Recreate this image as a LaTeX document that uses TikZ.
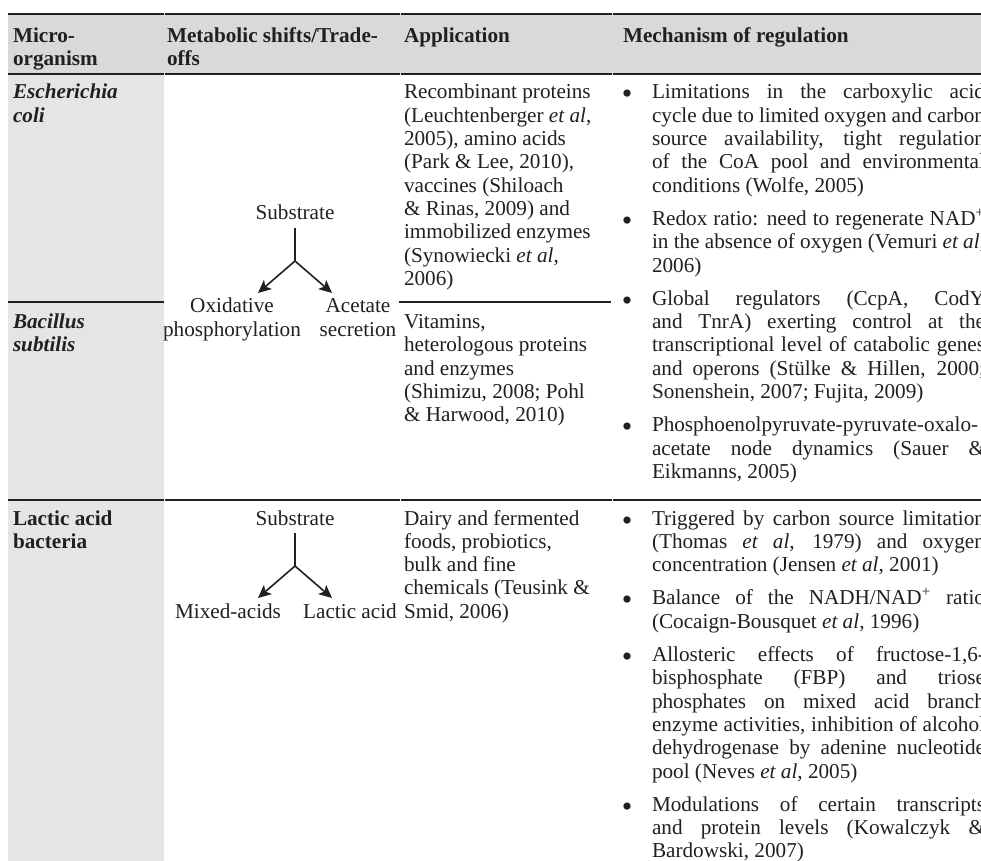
\documentclass[tikz,border=0pt]{standalone}
\usepackage{fontspec}
\setmainfont{Liberation Serif}
\usetikzlibrary{arrows.meta}

\definecolor{ink}{HTML}{231F20}
\definecolor{headgray}{HTML}{D8D9DB}
\definecolor{colgray}{HTML}{E4E5E7}

% width of a justified line in the last column
\newlength\jw
\setlength\jw{166.5pt}
\newcommand\jl[1]{\makebox[\jw][s]{#1}}
\newcommand\bul{\raisebox{-2.5pt}{\fontsize{15}{15}\selectfont\textbullet}}

\tikzset{
  txt/.style={anchor=base west, inner sep=0pt, outer sep=0pt, text=ink,
              font=\fontsize{10.6}{12}\selectfont},
  mid/.style={txt, anchor=base},
  hd/.style={txt, font=\fontsize{10.6}{12}\selectfont\bfseries},
  org/.style={txt, font=\fontsize{10.6}{12}\selectfont\bfseries\itshape},
  orgup/.style={txt, font=\fontsize{10.6}{12}\selectfont\bfseries},
  bulletmark/.style={txt, anchor=base},
  heavyrule/.style={draw=ink, line width=1pt},
  midrule/.style={draw=ink, line width=0.9pt},
  thinrule/.style={draw=ink, line width=0.6pt},
  connector/.style={draw=ink, line width=0.8pt},
  arrowline/.style={connector, -{Stealth[length=6.5pt,width=6pt,inset=1.6pt]}},
}

\begin{document}
\begin{tikzpicture}[x=0.5pt, y=-0.5pt]
\useasboundingbox (0,0) rectangle (981,861);
\clip (0,0) rectangle (981,861);
\fill[white] (0,0) rectangle (981,861);

% shaded header band and first column
\fill[headgray] (8,14) rectangle (981,74);
\fill[colgray] (8,74) rectangle (164,861);

% horizontal rules, broken slightly at the column joins
\foreach \y/\sty in {14/heavyrule, 74/heavyrule, 500/midrule}{
  \draw[\sty] (8,\y) -- (163.5,\y);
  \draw[\sty] (164.5,\y) -- (399.5,\y);
  \draw[\sty] (400.5,\y) -- (611.5,\y);
  \draw[\sty] (612.5,\y) -- (981,\y);
}
\draw[thinrule] (8,302) -- (164,302);
\draw[thinrule] (399,302) -- (611,302);

% header
\node[hd] (h1a) at (13,43) {Micro-};
\node[hd] (h1b) at (13,66) {organism};
\node[hd] (h2a) at (167,43) {Metabolic shifts/Trade-};
\node[hd] (h2b) at (167,66) {offs};
\node[hd] (h3) at (404,43) {Application};
\node[hd] (h4) at (623,43) {Mechanism of regulation};

% organisms
\node[org] (o1a) at (13,99) {Escherichia};
\node[org] (o1b) at (13,122.3) {coli};
\node[org] (o2a) at (13,328.7) {Bacillus};
\node[org] (o2b) at (13,352) {subtilis};
\node[orgup] (o3a) at (13,525) {Lactic acid};
\node[orgup] (o3b) at (13,548.3) {bacteria};

% branch diagram: oxidative phosphorylation vs acetate secretion
\node[mid] (s1) at (295,220) {Substrate};
\node[mid] (ox1) at (232,313) {Oxidative};
\node[mid] (ox2) at (232,336.3) {phosphorylation};
\node[mid] (ac1) at (358,313) {Acetate};
\node[mid] (ac2) at (358,336.3) {secretion};
\coordinate (s1top) at (295,228);
\coordinate (s1j) at (295,261);
\coordinate (s1l) at (258,293);
\coordinate (s1r) at (332,293);
\draw[connector] (s1top) -- (s1j);
\draw[arrowline] (s1j) -- (s1l);
\draw[arrowline] (s1j) -- (s1r);

% branch diagram: mixed acids vs lactic acid
\node[mid] (s2) at (295,525) {Substrate};
\node[mid] (mx) at (228,618.2) {Mixed-acids};
\node[mid] (la) at (350,618.2) {Lactic acid};
\coordinate (s2top) at (295,533);
\coordinate (s2j) at (295,566);
\coordinate (s2l) at (258,598);
\coordinate (s2r) at (332,598);
\draw[connector] (s2top) -- (s2j);
\draw[arrowline] (s2j) -- (s2l);
\draw[arrowline] (s2j) -- (s2r);

% applications
\node[txt] (a11) at (404,99) {Recombinant proteins};
\node[txt] (a12) at (404,122.3) {(Leuchtenberger \textit{et al},};
\node[txt] (a13) at (404,145.6) {2005), amino acids};
\node[txt] (a14) at (404,168.9) {(Park \& Lee, 2010),};
\node[txt] (a15) at (404,192.2) {vaccines (Shiloach};
\node[txt] (a16) at (404,215.5) {\& Rinas, 2009) and};
\node[txt] (a17) at (404,238.8) {immobilized enzymes};
\node[txt] (a18) at (404,262.1) {(Synowiecki \textit{et al},};
\node[txt] (a19) at (404,285.4) {2006)};

\node[txt] (a21) at (404,328.7) {Vitamins,};
\node[txt] (a22) at (404,352) {heterologous proteins};
\node[txt] (a23) at (404,375.3) {and enzymes};
\node[txt] (a24) at (404,398.6) {(Shimizu, 2008; Pohl};
\node[txt] (a25) at (404,421.9) {\& Harwood, 2010)};

\node[txt] (a31) at (404,525) {Dairy and fermented};
\node[txt] (a32) at (404,548.3) {foods, probiotics,};
\node[txt] (a33) at (404,571.6) {bulk and fine};
\node[txt] (a34) at (404,594.9) {chemicals (Teusink \&};
\node[txt] (a35) at (404,618.2) {Smid, 2006)};

% mechanisms: E. coli / B. subtilis
\node[bulletmark] (b1) at (627,99) {\bul};
\node[txt] (m11) at (652,99) {\jl{Limitations in the carboxylic acid}};
\node[txt] (m12) at (652,122.3) {\jl{cycle due to limited oxygen and carbon}};
\node[txt] (m13) at (652,145.6) {\jl{source availability, tight regulation}};
\node[txt] (m14) at (652,168.9) {\jl{of the CoA pool and environmental}};
\node[txt] (m15) at (652,192.2) {conditions (Wolfe, 2005)};

\node[bulletmark] (b2) at (627,225.5) {\bul};
\node[txt] (m21) at (652,225.5) {\jl{Redox ratio: need to regenerate NAD\textsuperscript{+}}};
\node[txt] (m22) at (652,248.8) {\jl{in the absence of oxygen (Vemuri \textit{et al},}};
\node[txt] (m23) at (652,272.1) {2006)};

\node[bulletmark] (b3) at (627,305.4) {\bul};
\node[txt] (m31) at (652,305.4) {\jl{Global regulators (CcpA, CodY}};
\node[txt] (m32) at (652,328.7) {\jl{and TnrA) exerting control at the}};
\node[txt] (m33) at (652,352) {\jl{transcriptional level of catabolic genes}};
\node[txt] (m34) at (652,375.3) {\jl{and operons (Stülke \& Hillen, 2000;}};
\node[txt] (m35) at (652,398.6) {Sonenshein, 2007; Fujita, 2009)};

\node[bulletmark] (b4) at (627,431.9) {\bul};
\node[txt] (m41) at (652,431.9) {Phosphoenolpyruvate-pyruvate-oxalo-};
\node[txt] (m42) at (652,455.2) {\jl{acetate node dynamics (Sauer \&}};
\node[txt] (m43) at (652,478.5) {Eikmanns, 2005)};

% mechanisms: lactic acid bacteria
\node[bulletmark] (b5) at (627,525) {\bul};
\node[txt] (n11) at (652,525) {\jl{Triggered by carbon source limitation}};
\node[txt] (n12) at (652,548.3) {\jl{(Thomas \textit{et al}, 1979) and oxygen}};
\node[txt] (n13) at (652,571.6) {concentration (Jensen \textit{et al}, 2001)};

\node[bulletmark] (b6) at (627,604.9) {\bul};
\node[txt] (n21) at (652,604.9) {\jl{Balance of the NADH/NAD\textsuperscript{+} ratio}};
\node[txt] (n22) at (652,628.2) {(Cocaign-Bousquet \textit{et al}, 1996)};

\node[bulletmark] (b7) at (627,661.5) {\bul};
\node[txt] (n31) at (652,661.5) {\jl{Allosteric effects of fructose-1,6-}};
\node[txt] (n32) at (652,684.8) {\jl{bisphosphate (FBP) and triose}};
\node[txt] (n33) at (652,708.1) {\jl{phosphates on mixed acid branch}};
\node[txt] (n34) at (652,731.4) {\jl{enzyme activities, inhibition of alcohol}};
\node[txt] (n35) at (652,754.7) {\jl{dehydrogenase by adenine nucleotide}};
\node[txt] (n36) at (652,778) {pool (Neves \textit{et al}, 2005)};

\node[bulletmark] (b8) at (627,811.3) {\bul};
\node[txt] (n41) at (652,811.3) {\jl{Modulations of certain transcripts}};
\node[txt] (n42) at (652,834.6) {\jl{and protein levels (Kowalczyk \&}};
\node[txt] (n43) at (652,857.9) {Bardowski, 2007)};
\end{tikzpicture}
\end{document}
